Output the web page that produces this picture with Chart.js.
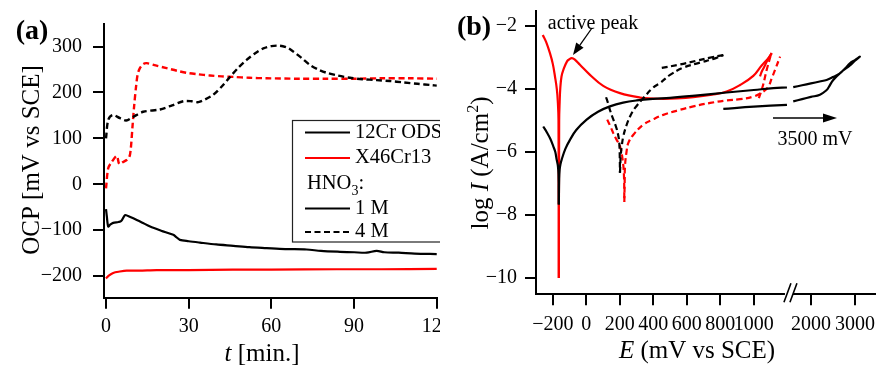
<!DOCTYPE html>
<html><head><meta charset="utf-8">
<script src="https://cdn.jsdelivr.net/npm/chart.js@4.4.0/dist/chart.umd.min.js"></script>
<style>
html,body{margin:0;padding:0;background:#fff;overflow:hidden}
#wrap{position:relative;width:876px;height:369px;background:#fff}
canvas{position:absolute;top:0}
#ca{left:0}
#cb{left:440px}
</style></head><body>
<div id="wrap"><canvas id="ca" width="440" height="369"></canvas><canvas id="cb" width="436" height="369"></canvas></div>
<script>
// ---------- Panel (a): OCP vs time ----------
const tBlack1M = [0,0.3,0.8,1.5,2.6,4.5,5.5,6.9,8,9.9,13,16,20,24.4,25.5,26.8,30,34.1,40,46.2,52,58.3,65,72.8,78,84.9,90,94.6,98.2,101,106.2,112,120];
const ocpBlack1M = [-54,-70,-92,-88,-84,-82,-80,-67,-69,-74,-83,-92,-101,-110,-115,-121,-124,-127,-131,-134,-137,-139,-141,-142,-145,-147,-148,-149,-145,-148,-149,-151,-152];
const tRed1M = [0,1,2.6,5,7.5,12,18.4,30,46,60,83.8,100,120];
const ocpRed1M = [-205,-199,-193,-190,-188,-188,-187,-187,-186,-186,-185,-185,-184];
const tBlack4M = [0,0.8,2.4,5.1,7.3,9.9,13.5,19.6,24,28,31,33.5,36,38.9,42,45,48,51,54,57.1,60,63.1,66,68,71,74,77,80,84,88.5,93,98.2,103,107.9,113,118.2,120];
const ocpBlack4M = [100,140,151,144,139,147,158,163,172,181,181,179,185,195,213,234,254,271,285,296,301,302,297,289,275,260,250,243,237,232,229,227,225,222,219,216,215];
const tRed4M = [0,0.8,2,3.9,4.8,6,7.5,8.5,9,9.6,10.2,10.9,11.5,12.3,13.5,14.8,18,22,26,29.2,33,37.7,42,46.2,52,58.3,70,80,90,100,110,120];
const ocpRed4M = [-9,35,48,62,44,48,53,60,78,125,170,213,240,253,262,264,259,253,247,243,240,237,235,234,232,231,230,230,230,231,231,230];
const tTicksA = [0,30,60,90,120];
const ocpTicksA = [-200,-100,0,100,200,300];

// ---------- Panel (b): polarization curves (E in mV vs SCE, log I) ----------
// 12Cr ODS, 1 M
const eBlack1M_L = [-257,-235,-215,-197,-185,-177,-170,-166,-164];
const iBlack1M_L = [-5.19,-5.38,-5.58,-5.82,-6.0,-6.24,-6.42,-6.7,-7.67];
const eBlack1M_R = [-164,-162,-159,-154,-147,-125,-97,-60,2,70,141,220,301,400,500,650,838,1000,1117,1198];
const iBlack1M_R = [-7.67,-6.85,-6.55,-6.38,-6.24,-5.9,-5.61,-5.3,-4.97,-4.72,-4.55,-4.43,-4.36,-4.31,-4.28,-4.21,-4.11,-4.03,-3.97,-3.95];
const eBlack1M_hi = [1598,1800,2000,2200,2357,2500,2659,2780,2886,3000,3114,3000,2886,2697,2507,2400,2357,2205,2000,1800,1598];
const iBlack1M_hi = [-3.94,-3.88,-3.82,-3.76,-3.71,-3.62,-3.50,-3.34,-3.18,-3.08,-2.97,-3.1,-3.25,-3.45,-3.71,-3.95,-4.03,-4.18,-4.25,-4.32,-4.39];
const eBlack1M_rev = [1198,1000,818];
const iBlack1M_rev = [-4.50,-4.56,-4.63];
// X46Cr13, 1 M
const eRed1M_L = [-260,-240,-217,-200,-187,-176,-170,-166,-164];
const iRed1M_L = [-2.28,-2.5,-2.86,-3.2,-3.6,-4.0,-4.4,-5.0,-10.0];
const eRed1M_R = [-164,-162,-159,-155,-148,-137,-115,-100,-87,-70,-38,22,101,201,321,400,460,540,639,750,838,918,997,1047,1087,1107];
const iRed1M_R = [-10.0,-5.0,-4.4,-3.95,-3.6,-3.39,-3.12,-3.05,-3.02,-3.06,-3.23,-3.55,-3.90,-4.13,-4.27,-4.30,-4.31,-4.30,-4.26,-4.18,-4.08,-3.87,-3.58,-3.25,-3.02,-2.86];
const eRed1M_rev = [1107,1080,1062,1047,1037];
const iRed1M_rev = [-2.86,-3.1,-3.3,-3.45,-3.6];
// X46Cr13, 4 M
const eRed4M_L = [125,145,161,180,201,217,225,227];
const iRed4M_L = [-4.97,-5.2,-5.4,-5.6,-5.82,-6.24,-6.77,-7.59];
const eRed4M_R = [227,229,231,240,251,281,340,400,460,559,639,740,838,918,997,1057,1087,1107,1127,1157];
const iRed4M_R = [-7.59,-7.0,-6.45,-6.0,-5.71,-5.45,-5.13,-4.96,-4.82,-4.66,-4.55,-4.44,-4.36,-4.32,-4.24,-4.08,-3.92,-3.66,-3.39,-2.97];
const eRed4M_rev = [1100,1077,1053,1027];
const iRed4M_rev = [-2.95,-3.39,-3.92,-4.34];
// 12Cr ODS, 4 M
const eBlack4M_L = [118,130,141,160,177,190,197,200,201];
const iBlack4M_L = [-4.26,-4.45,-4.66,-4.95,-5.19,-5.45,-5.71,-6.2,-6.66];
const eBlack4M_R = [201,203,205,212,221,240,261,291,340,400,440,500,579,679,760,818];
const iBlack4M_R = [-6.66,-6.4,-6.14,-5.8,-5.5,-5.15,-4.87,-4.6,-4.29,-3.95,-3.81,-3.55,-3.32,-3.16,-3.04,-2.92];
const eBlack4M_rev = [818,740,659,559,440];
const iBlack4M_rev = [-2.92,-3.0,-3.1,-3.22,-3.34];
const eTicksB = [-200,0,200,400,600,800,1000,2000,3000];
const iTicksB = [-10,-8,-6,-4,-2];

// broken E axis: compress the range above the break
const BREAK_LO = 1200, BREAK_HI = 1600, BREAK_GAP = 36, HI_SCALE = 0.2627;
function axisE(e){ return e <= BREAK_LO ? e : BREAK_LO + BREAK_GAP + (e - BREAK_HI) * HI_SCALE; }

const FONT = 'Liberation Serif, Times New Roman, serif';
const RED = '#ff0000', BLK = '#000000';
const DASH = [6, 3.5];
const minus = v => (v < 0 ? '\u2212' + Math.abs(v) : String(v));
function pairs(xs, ys, fx){ return xs.map((x,i)=>({x: fx ? fx(x) : x, y: ys[i]})); }

function runs(ctx, parts, x, y, rot, size){
  ctx.save(); ctx.translate(x, y); if (rot) ctx.rotate(rot);
  ctx.textAlign = 'left'; ctx.textBaseline = 'alphabetic'; ctx.fillStyle = '#000';
  let w = 0; parts.forEach(p => { ctx.font = p.f; w += ctx.measureText(p.t).width; });
  let cx = -w/2; const base = size * 0.33;
  parts.forEach(p => { ctx.font = p.f; ctx.fillText(p.t, cx, base + (p.dy||0)); cx += ctx.measureText(p.t).width; });
  ctx.restore();
}
function arrow(ctx, x1, y1, x2, y2, len, wid){
  const a = Math.atan2(y2-y1, x2-x1);
  const bx = x2 - len*Math.cos(a), by = y2 - len*Math.sin(a);
  ctx.save(); ctx.strokeStyle = '#000'; ctx.fillStyle = '#000'; ctx.lineWidth = 1.3;
  ctx.beginPath(); ctx.moveTo(x1,y1); ctx.lineTo(bx,by); ctx.stroke();
  ctx.beginPath(); ctx.moveTo(x2,y2);
  ctx.lineTo(bx + wid/2*Math.sin(a), by - wid/2*Math.cos(a));
  ctx.lineTo(bx - wid/2*Math.sin(a), by + wid/2*Math.cos(a));
  ctx.closePath(); ctx.fill(); ctx.restore();
}

function axisCfg(min, max, tickVals, labels, fitSize, isX, pad){
  return {
    type: 'linear', min, max,
    grid: { display: true, drawOnChartArea: false, drawTicks: true, tickLength: 11, color: '#000', lineWidth: 2 },
    border: { display: true, color: '#000', width: 2 },
    ticks: { color: '#000', font: { family: FONT, size: 20 }, padding: pad, maxRotation: 0, autoSkip: false,
      callback: (v, i) => labels[i] },
    afterBuildTicks: s => { s.ticks = tickVals.map(v => ({ value: v })); },
    afterFit: s => {
      if (isX) { s.height = fitSize; s.paddingLeft = 0; s.paddingRight = 0; }
      else { s.width = fitSize; s.paddingTop = 0; s.paddingBottom = 0; }
    }
  };
}

// ---------- Chart (a) ----------
const decoA = { id: 'decoA', afterDraw(chart){
  const ctx = chart.ctx;
  runs(ctx, [{t:'(a)', f:'bold 28px '+FONT}], 32, 30, 0, 28);
  runs(ctx, [{t:'OCP [mV vs SCE]', f:'25px '+FONT}], 31, 160, -Math.PI/2, 25);
  runs(ctx, [{t:'t', f:'italic 25px '+FONT},{t:' [min.]', f:'25px '+FONT}], 262, 353, 0, 25);
  // legend box
  ctx.save();
  ctx.fillStyle = '#fff'; ctx.fillRect(292, 120, 160, 122);
  ctx.strokeStyle = '#222'; ctx.lineWidth = 1.2; ctx.strokeRect(292.5, 120.5, 160, 121.5);
  const rows = [132.5, 158, 184, 208.5, 232];
  function sample(y, col, dash){ ctx.beginPath(); ctx.setLineDash(dash||[]); ctx.strokeStyle = col; ctx.lineWidth = 2.2; ctx.moveTo(305,y); ctx.lineTo(350,y); ctx.stroke(); ctx.setLineDash([]); }
  sample(rows[0], BLK); sample(rows[1], RED); sample(rows[3], BLK); sample(rows[4], BLK, DASH);
  ctx.fillStyle = '#000'; ctx.textBaseline = 'middle'; ctx.textAlign = 'left'; ctx.font = '20.5px '+FONT;
  ctx.fillText('12Cr ODS', 355, rows[0]);
  ctx.fillText('X46Cr13', 355, rows[1]);
  ctx.fillText('1 M', 355, rows[3]);
  ctx.fillText('4 M', 355, rows[4]);
  let x = 307; ctx.fillText('HNO', x, rows[2]); x += ctx.measureText('HNO').width;
  ctx.font = '14px '+FONT; ctx.fillText('3', x, rows[2]+7); x += ctx.measureText('3').width;
  ctx.font = '20.5px '+FONT; ctx.fillText(':', x, rows[2]);
  ctx.restore();
}};

new Chart(document.getElementById('ca'), {
  type: 'line',
  data: { datasets: [
    { data: pairs(tBlack1M, ocpBlack1M), borderColor: BLK, borderWidth: 2.2 },
    { data: pairs(tBlack4M, ocpBlack4M), borderColor: BLK, borderWidth: 2.4, borderDash: DASH },
    { data: pairs(tRed4M, ocpRed4M), borderColor: RED, borderWidth: 2.4, borderDash: DASH },
    { data: pairs(tRed1M, ocpRed1M), borderColor: RED, borderWidth: 2.2 }
  ]},
  options: {
    responsive: false, animation: false, devicePixelRatio: 1,
    elements: { point: { radius: 0 }, line: { tension: 0.3, fill: false } },
    layout: { padding: { left: 0, top: 24, right: 3, bottom: 0 } },
    plugins: { legend: { display: false }, tooltip: { enabled: false } },
    scales: {
      x: axisCfg(-0.73, 120.1, tTicksA, tTicksA.map(String), 71.3, true, 6),
      y: axisCfg(-247, 349.2, ocpTicksA, ocpTicksA.map(minus), 104, false, 11)
    }
  },
  plugins: [decoA]
});

// ---------- Chart (b) ----------
const decoB = { id: 'decoB', afterDraw(chart){
  const ctx = chart.ctx;
  const ca = chart.chartArea;
  runs(ctx, [{t:'(b)', f:'bold 28px '+FONT}], 34, 26, 0, 28);
  runs(ctx, [{t:'log ', f:'25px '+FONT},{t:'I', f:'italic 25px '+FONT},{t:' (A/cm', f:'25px '+FONT},{t:'2', f:'16px '+FONT, dy:-10},{t:')', f:'25px '+FONT}], 40, 163, -Math.PI/2, 25);
  runs(ctx, [{t:'E', f:'italic 25px '+FONT},{t:' (mV vs SCE)', f:'25px '+FONT}], 257, 350, 0, 25);
  runs(ctx, [{t:'active peak', f:'20px '+FONT}], 153, 22, 0, 20);
  arrow(ctx, 152, 28, 133, 55, 12, 9);
  runs(ctx, [{t:'3500 mV', f:'20px '+FONT}], 375, 138, 0, 20);
  arrow(ctx, 333, 118, 397, 118, 14, 9);
  // axis break
  const xs = chart.scales.x;
  const p1 = xs.getPixelForValue(BREAK_LO - 14), p2 = xs.getPixelForValue(BREAK_LO + BREAK_GAP - 2);
  ctx.save();
  ctx.fillStyle = '#fff'; ctx.fillRect(p1, ca.bottom - 3, p2 - p1, 6);
  ctx.strokeStyle = '#000'; ctx.lineWidth = 1.6;
  ctx.beginPath();
  ctx.moveTo(p1 - 1, ca.bottom + 8); ctx.lineTo(p1 + 6, ca.bottom - 11);
  ctx.moveTo(p1 + 5, ca.bottom + 8); ctx.lineTo(p1 + 12, ca.bottom - 11);
  ctx.stroke();
  ctx.restore();
}};

const solidB = (E, I, col) => ({ data: pairs(E, I, axisE), borderColor: col, borderWidth: 2.2 });
const dashB = (E, I, col) => ({ data: pairs(E, I, axisE), borderColor: col, borderWidth: 2.2, borderDash: DASH });

new Chart(document.getElementById('cb'), {
  type: 'line',
  data: { datasets: [
    solidB(eBlack1M_L, iBlack1M_L, BLK),
    solidB(eBlack1M_R, iBlack1M_R, BLK),
    solidB(eBlack1M_hi, iBlack1M_hi, BLK),
    solidB(eBlack1M_rev, iBlack1M_rev, BLK),
    dashB(eBlack4M_L, iBlack4M_L, BLK),
    dashB(eBlack4M_R, iBlack4M_R, BLK),
    dashB(eBlack4M_rev, iBlack4M_rev, BLK),
    solidB(eRed1M_L, iRed1M_L, RED),
    solidB(eRed1M_R, iRed1M_R, RED),
    solidB(eRed1M_rev, iRed1M_rev, RED),
    dashB(eRed4M_L, iRed4M_L, RED),
    dashB(eRed4M_R, iRed4M_R, RED),
    dashB(eRed4M_rev, iRed4M_rev, RED)
  ]},
  options: {
    responsive: false, animation: false, devicePixelRatio: 1,
    elements: { point: { radius: 0 }, line: { tension: 0.4, fill: false } },
    layout: { padding: { left: 0, top: 11, right: 0, bottom: 0 } },
    plugins: { legend: { display: false }, tooltip: { enabled: false } },
    scales: {
      x: axisCfg(-300.3, 1729.6, eTicksB.map(axisE), eTicksB.map(minus), 74.7, true, 7),
      y: axisCfg(-10.52, -1.52, iTicksB, iTicksB.map(minus), 96, false, 8)
    }
  },
  plugins: [decoB]
});
</script>
</body></html>
